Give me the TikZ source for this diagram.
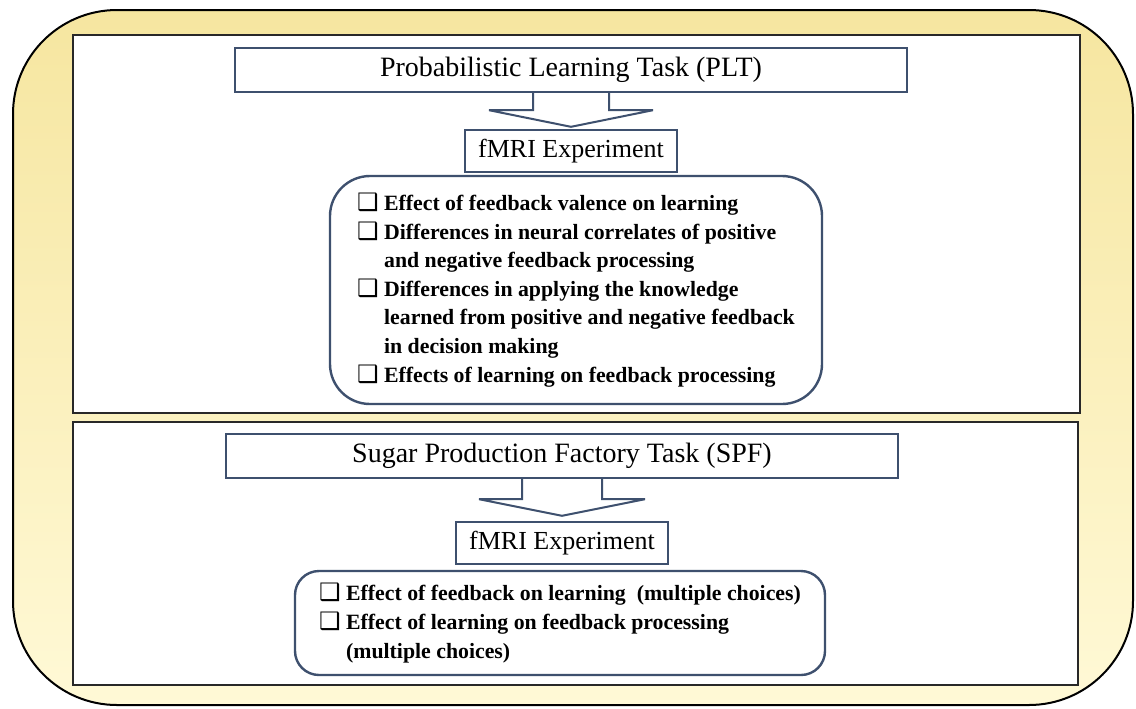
\documentclass[tikz,border=0pt]{standalone}
\usepackage{fontspec}
\setmainfont{Liberation Serif}
\newfontfamily\symfont{DejaVu Sans}
\usetikzlibrary{calc}

\definecolor{frameyellow}{RGB}{246,230,160}
\definecolor{paleyellow}{RGB}{255,249,214}
\definecolor{boxblue}{RGB}{62,80,110}
\definecolor{panelgray}{RGB}{40,40,40}

% checkbox bullet and the indent of a wrapped line
\newcommand{\cb}{{\symfont\fontsize{12}{12}\selectfont\char"2751}\ }
\newcommand{\cbindent}{\hphantom{\cb}}

\tikzset{
  panel/.style={draw=panelgray, line width=1.2pt, fill=white},
  taskbox/.style={draw=boxblue, line width=1.2pt, fill=white, inner sep=0pt,
    minimum width=336pt, minimum height=22pt, font=\fontsize{14}{16}\selectfont},
  exptbox/.style={draw=boxblue, line width=1.2pt, fill=white, inner sep=0pt,
    minimum width=106pt, minimum height=21pt, font=\fontsize{13}{15}\selectfont},
  listbox/.style={draw=boxblue, line width=1.2pt, fill=white, align=left,
    inner sep=0pt, font=\bfseries\fontsize{10.9}{14.3}\selectfont},
  arrowline/.style={draw=boxblue, line width=1pt, line join=miter},
}

\begin{document}
\begin{tikzpicture}[x=0.5pt, y=-0.5pt]
  \useasboundingbox (0,0) rectangle (1136,708);

  % Yellow frame and the two panels
  \shadedraw[top color=frameyellow, bottom color=paleyellow, draw=black,
    line width=1pt, rounded corners=52pt] (13,10) rectangle (1133,705);
  \draw[panel] (73,35) rectangle (1080,413);
  \draw[panel] (73,422) rectangle (1078,685);

  % PLT panel
  \node[taskbox] (plt) at (571,70) {Probabilistic Learning Task (PLT)};
  \node[exptbox] (fmriA) at (571,151) {fMRI Experiment};
  \node[listbox, rounded corners=20pt, minimum width=246pt,
    minimum height=114pt] (listA) at (576,290) {%
    \cb Effect of feedback valence on learning\\
    \cb Differences in neural correlates of positive\\
    \cbindent and negative feedback processing\\
    \cb Differences in applying the knowledge\\
    \cbindent learned from positive and negative feedback\\
    \cbindent in decision making\\
    \cb Effects of learning on feedback processing};

  % SPF panel
  \node[taskbox] (spf) at (562,456) {Sugar Production Factory Task (SPF)};
  \node[exptbox] (fmriB) at (562,543) {fMRI Experiment};
  \node[listbox, rounded corners=12pt, minimum width=265pt,
    minimum height=52pt] (listB) at (560,623) {%
    \cb Effect of feedback on learning\ \ (multiple choices)\\
    \cb Effect of learning on feedback processing\\
    \cbindent(multiple choices)};

  % Hollow arrows from task to experiment
  \draw[arrowline] ($(plt.south)+(-38,0)$) -- ++(0,17) -- ++(-44,0)
    -- ($(fmriA.north)+(0,-2)$) -- ($(plt.south)+(82,17)$) -- ++(-44,0)
    -- ($(plt.south)+(38,0)$);
  \draw[arrowline] ($(spf.south)+(-40,0)$) -- ++(0,20) -- ++(-43,0)
    -- ($(fmriB.north)+(0,-5)$) -- ($(spf.south)+(83,20)$) -- ++(-43,0)
    -- ($(spf.south)+(40,0)$);
\end{tikzpicture}
\end{document}
